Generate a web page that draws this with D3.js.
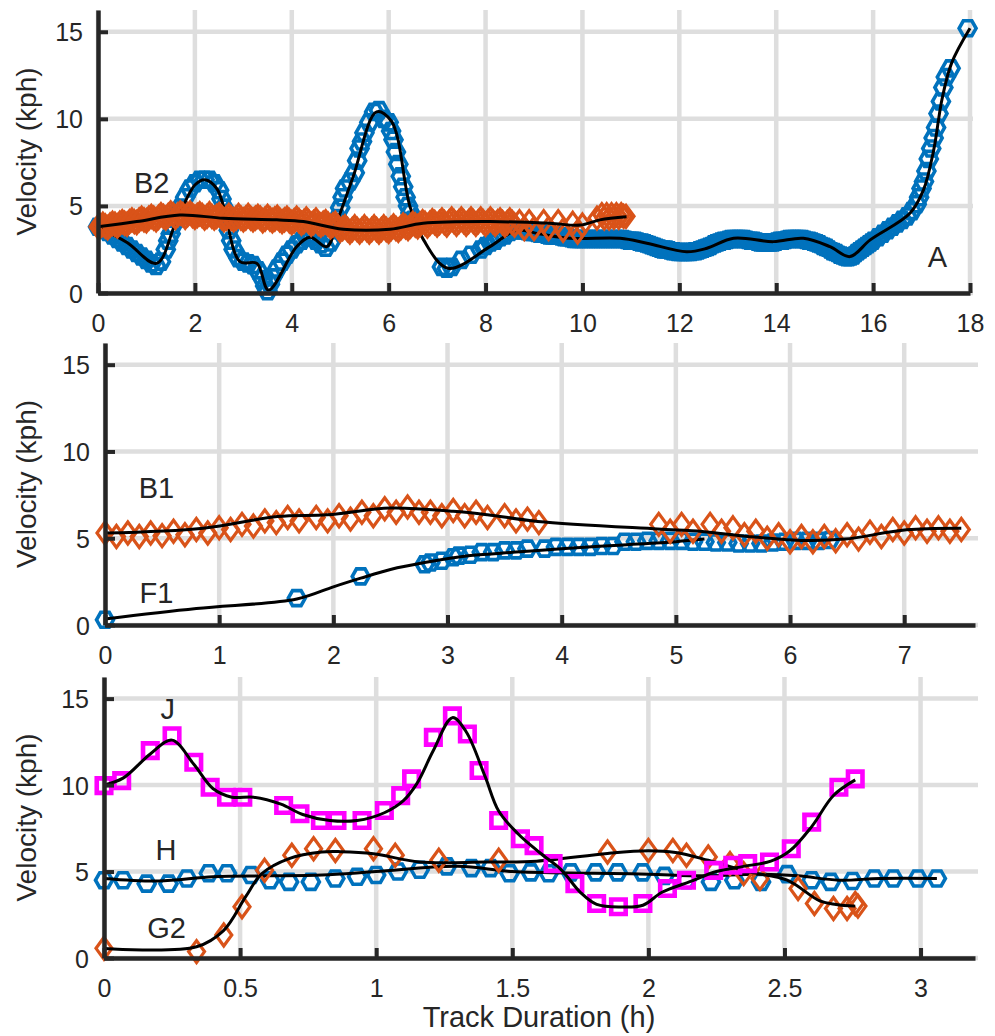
<!DOCTYPE html>
<html>
<head>
<meta charset="utf-8">
<script src="https://cdn.jsdelivr.net/npm/d3@7"></script>
<style>
  body { margin: 0; background: #fff; }
  svg text { font-family: Arial, "Liberation Sans", sans-serif; fill: #262626; }
</style>
</head>
<body>
<svg id="chart" width="995" height="1036"></svg>
<script>
// ---- data: [hours, kph] ----

// top panel, track A (blue) and B2 (orange)
const trackA = [[0,3.8],[0.1,3.7],[0.2,3.5],[0.3,3.3],[0.4,3.1],[0.5,2.9],[0.6,2.7],[0.7,2.5],[0.8,2.3],[0.9,2.1],[1.0,1.9],[1.1,1.7],[1.2,1.55],[1.3,1.8],
  [1.4,2.5],[1.45,3.0],[1.5,3.4],[1.55,3.9],[1.6,4.3],[1.7,4.9],[1.8,5.5],[1.9,6.0],[2.0,6.3],[2.1,6.5],[2.2,6.5],[2.3,6.5],[2.4,6.3],[2.5,5.9],[2.55,5.4],[2.6,4.9],
  [2.65,4.3],[2.7,3.6],[2.75,3.0],[2.8,2.5],[2.9,2.0],[3.0,1.8],[3.1,1.7],[3.2,1.6],[3.3,1.3],[3.4,0.8],[3.45,0.4],[3.5,0.1],[3.55,0.5],[3.6,0.9],[3.7,1.4],[3.8,1.8],
  [3.9,2.2],[4.0,2.5],[4.1,2.8],[4.2,3.0],[4.3,3.2],[4.4,3.2],[4.5,3.0],[4.6,2.8],[4.7,2.6],[4.8,2.9],[4.9,3.6],
  [4.95,4.3],[5.0,4.9],[5.05,5.5],[5.1,6.0],[5.2,6.4],[5.3,6.9],[5.35,7.6],[5.4,8.3],[5.45,8.7],[5.5,9.2],[5.6,9.8],[5.7,10.4],[5.8,10.5],[5.9,10.0],[6.0,9.8],
  [6.05,9.3],[6.1,8.8],[6.15,8.1],[6.2,7.4],[6.25,6.7],[6.3,6.1],[6.35,5.5],[6.4,5.0],[6.45,4.6],[6.5,4.2],
  [7.1,1.5],[7.2,1.4],[7.3,1.5],[7.5,1.9],[7.7,2.2],[7.9,2.5],[8.0,2.7],[8.1,2.9],[8.2,3.0],[8.3,3.2],[8.4,3.3],[8.5,3.5],[8.6,3.6],[8.7,3.6],[8.8,3.6],[8.9,3.5],
  [9.0,3.5],[9.1,3.4],[9.2,3.4],[9.3,3.3],[9.4,3.3],[9.5,3.3],[9.6,3.2],[9.7,3.2],[9.8,3.1],[9.9,3.1],[10.0,3.1],[10.1,3.1],[10.2,3.1],[10.3,3.1],[10.4,3.1],
  [10.5,3.1],[10.6,3.1],[10.7,3.1],[10.8,3.1],[10.9,3.05],[11.0,3.0],[11.1,3.0],[11.2,2.9],[11.3,2.85],[11.4,2.75],[11.5,2.65],[11.6,2.55],[11.7,2.5],[11.8,2.45],
  [11.9,2.4],[12.0,2.35],[12.1,2.35],[12.2,2.35],[12.3,2.4],[12.4,2.45],[12.5,2.55],[12.6,2.65],[12.7,2.8],[12.8,2.9],[12.9,3.0],[13.0,3.05],[13.1,3.1],[13.2,3.1],
  [13.3,3.1],[13.4,3.05],[13.5,3.0],[13.6,2.95],[13.7,2.9],[13.8,2.9],[13.9,2.9],[14.0,2.95],[14.1,3.0],[14.2,3.05],[14.3,3.1],[14.4,3.1],[14.5,3.1],[14.6,3.05],
  [14.7,3.0],[14.8,2.9],[14.9,2.8],[15.0,2.65],[15.1,2.5],[15.2,2.35],[15.3,2.2],[15.4,2.1],[15.5,2.05],[15.6,2.15],[15.7,2.4],[15.8,2.6],[15.9,2.8],[16.0,3.0],
  [16.1,3.2],[16.2,3.4],[16.3,3.6],[16.4,3.8],[16.5,4.0],[16.6,4.2],[16.7,4.4],[16.8,4.7],[16.9,5.1],[16.95,5.5],[17.0,6.0],[17.05,6.4],[17.1,7.0],[17.15,7.7],
  [17.2,8.3],[17.25,8.9],[17.3,9.5],[17.35,10.3],[17.4,11.0],[17.45,11.8],[17.5,12.4],[17.6,12.9],[17.95,15.2]];
// extra samples where track A markers run together into a band
const trackABand = [[8.65,3.6],[8.75,3.6],[8.85,3.55],[8.95,3.5],[9.05,3.45],[9.15,3.4],[9.25,3.35],[9.35,3.3],[9.45,3.3],[9.55,3.25],[9.65,3.2],[9.75,3.15],
  [9.85,3.1],[9.95,3.1],[10.05,3.1],[10.15,3.1],[10.25,3.1],[10.35,3.1],[10.45,3.1],[10.55,3.1],[10.65,3.1],[10.75,3.1],[10.85,3.1],[10.95,3.0],[11.05,3.0],
  [11.15,2.95],[11.25,2.9],[11.35,2.8],[11.45,2.7],[11.55,2.6],[11.65,2.5],[11.75,2.5],[11.85,2.4],[11.95,2.35],[12.05,2.35],[12.15,2.35],[12.25,2.35],[12.35,2.4],
  [12.45,2.5],[12.55,2.6],[12.65,2.7],[12.75,2.85],[12.85,2.95],[12.95,3.0],[13.05,3.1],[13.15,3.1],[13.25,3.1],[13.35,3.1],[13.45,3.0],[13.55,3.0],[13.65,2.9],
  [13.75,2.9],[13.85,2.9],[13.95,2.9],[14.05,3.0],[14.15,3.0],[14.25,3.1],[14.35,3.1],[14.45,3.1],[14.55,3.1],[14.65,3.0],[14.75,2.95],[14.85,2.85],[14.95,2.7],
  [15.05,2.6],[15.15,2.4],[15.25,2.3],[15.35,2.15],[15.45,2.05],[15.55,2.1],[15.65,2.3],[15.75,2.5],[15.85,2.7],[15.95,2.9]];
const fitA = [[0,3.8],[0.6,2.9],[1.21,1.7],[1.6,4.0],[2.0,6.2],[2.21,6.5],[2.45,6.0],[2.59,5.0],[2.93,1.8],[3.28,1.7],[3.52,0.17],[4.1,2.66],[4.38,3.2],[4.72,2.66],
  [4.96,4.3],[5.27,6.7],[5.75,10.4],[6.06,9.85],[6.44,4.96],[6.72,3.05],[7.23,1.42],[8.09,2.66],[8.64,3.6],[9.1,3.4],[9.74,3.14],[10.78,3.14],[11.33,2.86],
  [12.15,2.37],[12.57,2.57],[13.12,3.14],[13.94,2.95],[14.56,3.14],[15.11,2.66],[15.52,2.09],[15.94,3.05],[16.76,4.58],[17.04,5.92],[17.25,8.2],[17.42,11.1],
  [17.62,13.2],[18.0,15.2]];
const trackB2 = [[0,3.8],[0.1,3.95],[0.2,3.75],[0.3,4.0],[0.4,3.85],[0.5,4.1],[0.6,3.95],[0.7,4.2],[0.8,4.05],[0.9,4.3],[1.0,4.15],[1.1,4.4],[1.2,4.2],[1.3,4.5],
  [1.4,4.3],[1.5,4.6],[1.6,4.35],[1.7,4.6],[1.8,4.35],[1.9,4.6],[2.0,4.35],[2.1,4.55],[2.2,4.3],[2.3,4.55],[2.4,4.3],[2.5,4.5],[2.6,4.2],[2.7,4.45],[2.8,4.2],
  [2.9,4.45],[3.0,4.2],[3.1,4.45],[3.2,4.2],[3.3,4.4],[3.4,4.15],[3.5,4.4],[3.6,4.15],[3.7,4.35],[3.8,4.1],[3.9,4.3],[4.0,4.05],[4.1,4.3],[4.2,4.0],[4.3,4.25],
  [4.4,3.95],[4.5,4.2],[4.6,3.9],[4.7,4.1],[4.8,3.8],[4.9,4.0],[5.0,3.6],[5.1,3.8],[5.2,3.5],[5.3,3.8],[5.4,3.5],[5.5,3.8],[5.6,3.5],[5.7,3.8],[5.8,3.5],[5.9,3.8],
  [6.0,3.55],[6.1,3.85],[6.2,3.6],[6.3,3.9],[6.4,3.7],[6.5,4.0],[6.6,3.8],[6.7,4.1],[6.8,3.85],[6.9,4.15],[7.0,3.9],[7.1,4.2],[7.2,3.9],[7.3,4.25],[7.4,3.95],
  [7.5,4.25],[7.6,3.95],[7.7,4.25],[7.8,3.95],[7.9,4.25],[8.0,3.95],[8.1,4.25],[8.2,3.95],[8.3,4.2],[8.4,3.9],[8.5,4.2],[8.6,3.9],[8.7,4.1],[8.8,3.7],[8.9,4.1],
  [9.0,3.7],[9.2,4.1],[9.3,3.7],[9.5,4.1],[9.6,3.6],[9.8,4.0],[9.9,3.5],[10.0,3.9],[10.3,4.3],[10.4,4.5],[10.45,4.3],[10.5,4.5],[10.55,4.3],[10.6,4.5],[10.65,4.35],
  [10.7,4.5],[10.75,4.35],[10.8,4.5],[10.85,4.4],[10.9,4.4]];
// extra samples in the solid part of the B2 band
const trackB2Band = [[0.05,3.85],[0.15,3.85],[0.25,3.9],[0.35,3.95],[0.45,4.0],[0.55,4.0],[0.65,4.1],[0.75,4.1],[0.85,4.2],[0.95,4.2],[1.05,4.3],[1.15,4.3],
  [1.25,4.35],[1.35,4.4],[1.45,4.45],[1.55,4.5],[1.65,4.5],[1.75,4.5],[1.85,4.5],[1.95,4.45],[2.05,4.45],[2.15,4.45],[2.25,4.4],[2.35,4.4],[2.45,4.4],[2.55,4.35],
  [2.65,4.3],[2.75,4.3],[2.85,4.3],[2.95,4.3],[3.05,4.3],[3.15,4.3],[3.25,4.3],[3.35,4.3],[3.45,4.25],[3.55,4.25],[3.65,4.25],[3.75,4.2],[3.85,4.2],[3.95,4.15],
  [4.05,4.15],[4.15,4.15],[4.25,4.1],[4.35,4.1],[4.45,4.05],[4.55,4.0],[4.65,4.0],[4.75,3.95],[4.85,3.9],[4.95,3.8],[5.05,3.7],[5.15,3.65],[5.25,3.65],[5.35,3.65],
  [5.45,3.65],[5.55,3.65],[5.65,3.65],[5.75,3.65],[5.85,3.65],[5.95,3.65],[6.05,3.7],[6.15,3.7],[6.25,3.75],[6.35,3.8],[6.45,3.85],[6.55,3.9],[6.65,3.95],
  [6.75,4.0],[6.85,4.0],[6.95,4.05],[7.05,4.05],[7.15,4.05],[7.25,4.1],[7.35,4.1],[7.45,4.1],[7.55,4.1],[7.65,4.1],[7.75,4.1],[7.85,4.1],[7.95,4.1],[8.05,4.1],
  [8.15,4.1],[8.25,4.1],[8.35,4.05],[8.45,4.05],[8.55,4.05]];
const fitB2 = [[0,3.8],[0.8,4.1],[1.69,4.48],[2.59,4.29],[3.69,4.2],[4.24,4.1],[5.06,3.66],[6.03,3.66],[6.71,4.0],[8.09,4.1],[9.33,4.0],[9.95,3.9],[10.36,4.2],[10.91,4.38]];

// middle panel, track F1 (blue) and B1 (orange)
const trackF1 = [[0,0.3],[1.68,1.55],[2.24,2.8],[2.8,3.5],[2.85,3.6],[2.95,3.7],[3.05,3.9],[3.1,4.0],[3.2,4.05],[3.3,4.2],[3.4,4.2],[3.5,4.3],[3.6,4.3],[3.7,4.4],
  [3.85,4.4],[3.95,4.5],[4.05,4.5],[4.15,4.5],[4.25,4.5],[4.35,4.55],[4.45,4.55],[4.55,4.8],[4.65,4.8],[4.75,4.85],[4.85,4.85],[4.95,4.85],[5.05,4.85],[5.15,4.8],
  [5.25,4.8],[5.35,4.75],[5.45,4.75],[5.55,4.7],[5.65,4.7],[5.75,4.7],[5.85,4.75],[5.95,4.8],[6.05,4.85],[6.15,4.85],[6.25,4.85],[6.35,4.9]];
const fitF1 = [[0,0.35],[0.8,0.95],[1.68,1.5],[2.0,2.2],[2.24,2.7],[2.5,3.2],[2.8,3.6],[3.2,4.0],[3.6,4.2],[4.0,4.4],[4.5,4.6],[5.0,4.8],[5.25,4.95]];
const trackB1 = [[0,5.3],[0.1,5.1],[0.2,5.3],[0.3,5.1],[0.4,5.3],[0.5,5.15],[0.6,5.4],[0.7,5.2],[0.8,5.5],[0.9,5.3],[1.0,5.6],[1.1,5.5],[1.2,5.8],[1.3,5.7],
  [1.4,6.0],[1.5,5.9],[1.6,6.2],[1.7,6.0],[1.85,6.2],[1.95,6.0],[2.05,6.3],[2.15,6.1],[2.25,6.5],[2.35,6.3],[2.45,6.7],[2.55,6.5],[2.65,6.8],[2.75,6.5],[2.85,6.5],
  [2.95,6.3],[3.05,6.6],[3.15,6.3],[3.25,6.5],[3.35,6.2],[3.5,6.3],[3.6,6.0],[3.7,6.1],[3.8,5.9],[4.85,5.8],[4.95,5.4],[5.05,5.8],[5.15,5.4],[5.3,5.8],[5.4,5.4],
  [5.5,5.6],[5.6,5.2],[5.7,5.4],[5.8,5.0],[5.9,5.2],[6.0,4.8],[6.1,5.1],[6.2,4.8],[6.3,5.1],[6.4,4.85],[6.5,5.2],[6.6,4.95],[6.7,5.35],[6.8,5.1],[6.9,5.5],
  [7.0,5.3],[7.1,5.6],[7.2,5.4],[7.3,5.6],[7.4,5.4],[7.5,5.5]];
const fitB1 = [[0,5.3],[0.86,5.58],[1.51,6.25],[1.95,6.35],[2.5,6.74],[3.05,6.55],[3.35,6.35],[3.79,5.97],[4.84,5.53],[5.23,5.39],[5.63,5.1],[6.13,4.87],
  [6.48,4.95],[7.02,5.49],[7.5,5.58]];

// bottom panel, tracks H (blue), G2 (orange), J (magenta)
const trackH = [[0,4.5],[0.07,4.5],[0.157,4.3],[0.237,4.3],[0.305,4.6],[0.385,4.9],[0.452,4.9],[0.54,4.8],[0.61,4.5],[0.68,4.4],[0.76,4.4],[0.85,4.6],[0.93,4.7],
  [1.0,4.8],[1.08,5.0],[1.16,5.1],[1.26,5.3],[1.35,5.2],[1.42,5.2],[1.49,4.9],[1.568,4.95],[1.634,4.9],[1.715,4.95],[1.807,4.95],[1.887,4.95],[1.979,4.95],
  [2.059,4.75],[2.14,4.5],[2.23,4.4],[2.316,4.5],[2.414,4.4],[2.51,4.85],[2.6,4.5],[2.67,4.4],[2.75,4.45],[2.83,4.6],[2.9,4.6],[2.99,4.6],[3.06,4.6]];
const fitH = [[0,4.6],[0.2,4.45],[0.4,4.7],[0.6,4.75],[0.8,4.8],[1.0,5.0],[1.3,5.3],[1.5,5.0],[1.8,4.9],[2.0,4.85],[2.2,4.75],[2.4,4.85],[2.55,4.75],
  [2.7,4.5],[2.85,4.6],[3.06,4.6]];
const trackG2 = [[0,0.56],[0.34,0.37],[0.44,1.33],[0.507,2.96],[0.59,5.07],[0.69,5.94],[0.77,6.32],[0.85,6.22],[0.99,6.32],[1.07,5.94],[1.23,5.65],[1.45,5.65],
  [1.85,6.13],[2.0,6.22],[2.09,6.22],[2.14,5.94],[2.22,5.84],[2.3,5.46],[2.35,4.88],[2.41,4.59],[2.55,4.02],[2.61,3.15],[2.68,2.86],[2.73,2.86],[2.76,3.15],[2.77,3.0]];
const fitG2 = [[0,0.55],[0.34,0.65],[0.44,1.6],[0.52,3.53],[0.58,4.88],[0.68,5.75],[0.8,6.13],[0.87,6.15],[0.99,6.03],[1.16,5.55],[1.4,5.55],[1.59,5.6],
  [1.85,6.05],[2.0,6.2],[2.1,6.1],[2.22,5.65],[2.37,4.98],[2.51,4.5],[2.63,3.3],[2.69,3.1],[2.76,3.0]];
const trackJ = [[0,9.97],[0.065,10.26],[0.17,11.99],[0.25,12.85],[0.33,11.32],[0.39,9.87],[0.45,9.3],[0.51,9.3],[0.66,8.82],[0.72,8.34],[0.795,7.95],[0.856,7.95],
  [0.948,7.95],[1.03,8.53],[1.09,9.39],[1.13,10.36],[1.21,12.76],[1.28,14.0],[1.335,12.95],[1.378,10.84],[1.45,7.95],[1.53,6.9],[1.58,6.5],[1.65,5.46],[1.73,4.3],
  [1.81,3.15],[1.89,2.96],[1.98,3.15],[2.07,4.02],[2.14,4.5],[2.24,5.07],[2.31,5.36],[2.365,5.46],[2.445,5.55],[2.525,6.32],[2.6,7.86],[2.7,9.87],[2.76,10.36]];
const fitJ = [[0,10.0],[0.07,10.4],[0.17,11.8],[0.25,12.6],[0.33,11.2],[0.4,9.8],[0.47,9.3],[0.55,9.3],[0.65,8.9],[0.73,8.3],[0.83,7.95],[0.93,7.95],[1.03,8.4],
  [1.1,9.1],[1.15,10.1],[1.21,12.0],[1.28,13.9],[1.33,13.1],[1.4,10.5],[1.45,8.5],[1.52,7.2],[1.6,6.1],[1.68,5.1],[1.75,3.8],[1.81,3.1],[1.9,2.95],[1.98,3.05],
  [2.05,3.8],[2.15,4.4],[2.25,5.0],[2.35,5.3],[2.45,5.6],[2.52,6.2],[2.6,7.6],[2.68,9.4],[2.76,10.3]];

// tick values
const yTicks = [0, 5, 10, 15];
const xTicksTop = [0, 2, 4, 6, 8, 10, 12, 14, 16, 18];
const xTicksMid = [0, 1, 2, 3, 4, 5, 6, 7];
const xTicksBot = [0, 0.5, 1, 1.5, 2, 2.5, 3];

// ---- styling ----
const BLUE = '#0072BD', ORANGE = '#D95319', MAGENTA = '#FF00FF';
const AXIS = '#262626', GRID = '#dedede';

// marker paths, centred on 0,0
const shapes = {
    hex: (w = 17, h = 15) => `M${-w/2},0L${-w/4},${-h/2}L${w/4},${-h/2}L${w/2},0L${w/4},${h/2}L${-w/4},${h/2}Z`,
    diamond: (w = 16, h = 22) => `M0,${-h/2}L${w/2},0L0,${h/2}L${-w/2},0Z`,
    square: (s = 14.5) => `M${-s/2},${-s/2}h${s}v${s}h${-s}Z`
};
const strokeW = { hex: 3.6, diamond: 3.2, square: 4.6 };

const panels = [
    { top: 10, bottom: 293, left: 98, right: 970, xMax: 18, xTicks: xTicksTop,
      series: [
        { pts: trackA.concat(trackABand), fit: fitA, shape: 'hex', color: BLUE },
        { pts: trackB2.concat(trackB2Band), fit: fitB2, shape: 'diamond', color: ORANGE }
      ],
      labels: [{ text: 'B2', t: 1.11, v: 5.75 }, { text: 'A', t: 17.33, v: 1.49 }] },
    { top: 343, bottom: 625, left: 105, right: 975, xMax: 7.62, xTicks: xTicksMid,
      series: [
        { pts: trackF1, fit: fitF1, shape: 'hex', color: BLUE },
        { pts: trackB1, fit: fitB1, shape: 'diamond', color: ORANGE }
      ],
      labels: [{ text: 'B1', t: 0.45, v: 7.33 }, { text: 'F1', t: 0.45, v: 1.27 }] },
    { top: 677, bottom: 958, left: 104, right: 975, xMax: 3.2, xTicks: xTicksBot,
      series: [
        { pts: trackH, fit: fitH, shape: 'hex', color: BLUE },
        { pts: trackG2, fit: fitG2, shape: 'diamond', color: ORANGE },
        { pts: trackJ, fit: fitJ, shape: 'square', color: MAGENTA }
      ],
      labels: [{ text: 'J', t: 0.234, v: 13.85 }, { text: 'H', t: 0.228, v: 5.65 }, { text: 'G2', t: 0.23, v: 1.15 }] }
];

const svg = d3.select('#chart');

function drawPanel(p) {
    const x = d3.scaleLinear().domain([0, p.xMax]).range([p.left, p.right]);
    const y = d3.scaleLinear().domain([0, 16.25]).range([p.bottom, p.top]);
    const g = svg.append('g');

    // grid
    g.append('g').selectAll('line').data(p.xTicks).join('line')
        .attr('x1', d => x(d)).attr('x2', d => x(d))
        .attr('y1', p.top).attr('y2', p.bottom)
        .attr('stroke', GRID).attr('stroke-width', 4.5);
    g.append('g').selectAll('line').data(yTicks).join('line')
        .attr('x1', p.left).attr('x2', p.right + 3)
        .attr('y1', d => y(d)).attr('y2', d => y(d))
        .attr('stroke', GRID).attr('stroke-width', 4.5);

    // series: markers then the smoothed fit on top
    const line = d3.line().x(d => x(d[0])).y(d => y(d[1])).curve(d3.curveCatmullRom.alpha(0.5));
    p.series.forEach(s => {
        g.append('g').selectAll('path').data(s.pts).join('path')
            .attr('d', shapes[s.shape]())
            .attr('transform', d => `translate(${x(d[0])},${y(d[1])})`)
            .attr('fill', 'none')
            .attr('stroke', s.color)
            .attr('stroke-width', strokeW[s.shape])
            .attr('stroke-linejoin', 'miter');
        g.append('path').datum(s.fit)
            .attr('d', line)
            .attr('fill', 'none')
            .attr('stroke', '#000')
            .attr('stroke-width', 3);
    });

    // axes, ticks pointing inward
    const fmt = d => String(d);
    const xa = g.append('g').attr('transform', `translate(0,${p.bottom})`)
        .call(d3.axisBottom(x).tickValues(p.xTicks).tickFormat(fmt).tickSize(-10).tickSizeOuter(0).tickPadding(21));
    const ya = g.append('g').attr('transform', `translate(${p.left},0)`)
        .call(d3.axisLeft(y).tickValues(yTicks).tickSize(-10).tickSizeOuter(0).tickPadding(15));
    [xa, ya].forEach(a => {
        a.attr('font-family', null).attr('font-size', null);
        a.select('.domain').attr('stroke', AXIS).attr('stroke-width', 4.5);
        a.selectAll('.tick line').attr('stroke', AXIS).attr('stroke-width', 4);
        a.selectAll('.tick text').attr('fill', AXIS).style('font-size', '25px');
    });
    ya.selectAll('.tick text').attr('dy', '0.36em');

    // y label
    g.append('text')
        .attr('transform', `translate(36,${(p.top + p.bottom) / 2}) rotate(-90)`)
        .attr('text-anchor', 'middle')
        .style('font-size', '28px')
        .text('Velocity (kph)');

    // track names
    g.selectAll('.name').data(p.labels).join('text')
        .attr('class', 'name')
        .attr('x', d => x(d.t)).attr('y', d => y(d.v))
        .attr('text-anchor', 'middle')
        .style('font-size', '29px')
        .text(d => d.text);
}

panels.forEach(drawPanel);

svg.append('text')
    .attr('x', 539).attr('y', 1027)
    .attr('text-anchor', 'middle')
    .style('font-size', '29px')
    .text('Track Duration (h)');
</script>
</body>
</html>
